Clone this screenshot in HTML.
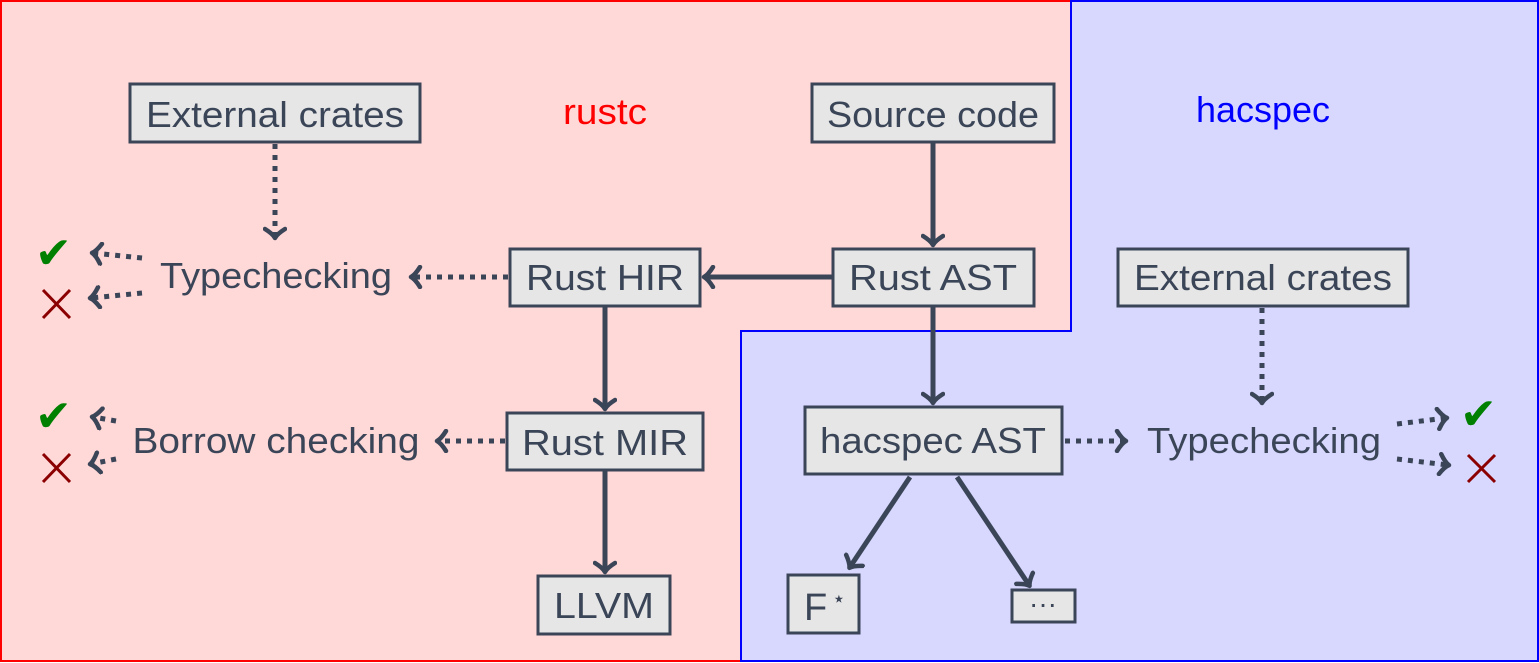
<!DOCTYPE html>
<html><head><meta charset="utf-8"><style>
html,body{margin:0;padding:0;background:#fff}
svg{display:block}
text{font-family:"Liberation Sans","DejaVu Sans",sans-serif;fill:#3b4558}
</style></head><body>
<svg width="1539" height="663" viewBox="0 0 1539 663" xmlns="http://www.w3.org/2000/svg">
<defs>
<marker id="a" viewBox="-12 -12 24 24" markerWidth="24" markerHeight="24" markerUnits="userSpaceOnUse" refX="0" refY="0" orient="auto">
<path d="M-8,-10 Q-3,-2 1,0 Q-3,2 -8,10" fill="none" stroke="#3b4558" stroke-width="4.5" stroke-linecap="round" stroke-linejoin="round"/>
</marker>
</defs>
<rect x="1" y="1" width="1071" height="660" fill="#ffd8d8" stroke="#ff0000" stroke-width="2"/>
<path d="M1071,1 L1538,1 L1538,661 L741,661 L741,331 L1071,331 Z" fill="#d8d8ff" stroke="#0000ff" stroke-width="2"/>

<g fill="#e6e6e6" stroke="#3b4558" stroke-width="3">
<rect x="130" y="84" width="290" height="58"/>
<rect x="812" y="84" width="242" height="58"/>
<rect x="833" y="249" width="201" height="57"/>
<rect x="510" y="249" width="190" height="57"/>
<rect x="507" y="413" width="196" height="57"/>
<rect x="538" y="576" width="132" height="58"/>
<rect x="805" y="407" width="257" height="67"/>
<rect x="1118" y="249" width="290" height="57"/>
<rect x="788" y="575" width="71" height="58"/>
<rect x="1012" y="590" width="63" height="32"/>
</g>

<g font-size="36" text-anchor="middle">
<text x="275" y="127" textLength="258" lengthAdjust="spacingAndGlyphs">External crates</text>
<text x="933" y="127" textLength="212" lengthAdjust="spacingAndGlyphs">Source code</text>
<text x="933" y="290" textLength="168" lengthAdjust="spacingAndGlyphs">Rust AST</text>
<text x="605" y="290" textLength="158" lengthAdjust="spacingAndGlyphs">Rust HIR</text>
<text x="605" y="455" textLength="166" lengthAdjust="spacingAndGlyphs">Rust MIR</text>
<text x="604" y="618" textLength="100" lengthAdjust="spacingAndGlyphs">LLVM</text>
<text x="933" y="453" textLength="226" lengthAdjust="spacingAndGlyphs">hacspec AST</text>
<text x="1263" y="290" textLength="258" lengthAdjust="spacingAndGlyphs">External crates</text>
<text x="804" y="620" text-anchor="start" font-size="38">F</text>
<text x="832" y="606" font-size="22" text-anchor="start">⋆</text>
<text x="1043" y="613" font-size="28">···</text>
<text x="276" y="288" textLength="232" lengthAdjust="spacingAndGlyphs">Typechecking</text>
<text x="276" y="453" textLength="287" lengthAdjust="spacingAndGlyphs">Borrow checking</text>
<text x="1264" y="453" textLength="234" lengthAdjust="spacingAndGlyphs">Typechecking</text>
</g>
<text x="605" y="124" font-size="36" text-anchor="middle" textLength="84" lengthAdjust="spacingAndGlyphs" style="fill:#ff0000">rustc</text>
<text x="1263" y="122" font-size="36" text-anchor="middle" textLength="134" lengthAdjust="spacingAndGlyphs" style="fill:#0000ff">hacspec</text>

<g stroke="#3b4558" stroke-width="5" fill="none" marker-end="url(#a)">
<line x1="933" y1="143" x2="933" y2="244"/>
<line x1="832" y1="277" x2="705" y2="277"/>
<line x1="933" y1="307" x2="933" y2="402"/>
<line x1="605" y1="307" x2="605" y2="408"/>
<line x1="605" y1="471" x2="605" y2="571"/>
<line x1="910" y1="477" x2="850" y2="567"/>
<line x1="957" y1="477" x2="1029" y2="585"/>
</g>
<g stroke="#3b4558" stroke-width="5" fill="none" stroke-dasharray="5 6" marker-end="url(#a)">
<line x1="275" y1="144" x2="275" y2="237"/>
<line x1="508" y1="277" x2="412" y2="277"/>
<line x1="505" y1="441" x2="438" y2="441"/>
<line x1="1065" y1="441" x2="1125" y2="441"/>
<line x1="1262" y1="308" x2="1262" y2="402"/>
<line x1="142" y1="258" x2="93" y2="253"/>
<line x1="142" y1="293" x2="91" y2="298"/>
<line x1="116" y1="421" x2="93" y2="417"/>
<line x1="116" y1="459" x2="91" y2="464"/>
<line x1="1397" y1="424" x2="1446" y2="418"/>
<line x1="1397" y1="459" x2="1448" y2="465"/>
</g>

<g font-size="44" font-weight="bold">
<text x="35" y="268" style="fill:#008000">✔</text>
<text x="35" y="431" style="fill:#008000">✔</text>
<text x="1460" y="429" style="fill:#008000">✔</text>
</g>
<g stroke="#8b0000" stroke-width="3">
<path d="M43,290 L70,318 M70,290 L43,318"/>
<path d="M43,454 L70,482 M70,454 L43,482"/>
<path d="M1468,455 L1495,482 M1495,455 L1468,482"/>
</g>
</svg>
</body></html>
